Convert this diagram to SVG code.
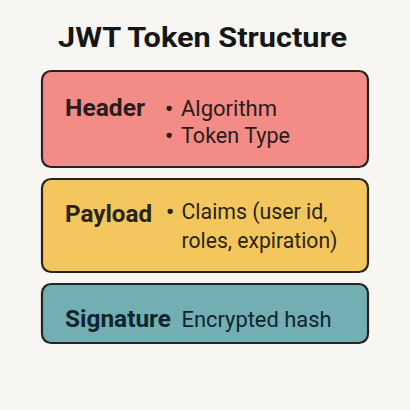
<svg xmlns="http://www.w3.org/2000/svg" width="410" height="410" viewBox="0 0 410 410">
<style>
.box{stroke:#2a2222;stroke-width:2.2}
.lbl{font-family:Roboto,"Liberation Sans",sans-serif;font-weight:bold;font-size:23px}
.txt{font-family:Roboto,"Liberation Sans",sans-serif;font-size:22.5px}
.bul{font-weight:bold}
.title{font-family:Roboto,"Liberation Sans",sans-serif;font-weight:bold;font-size:28.5px;fill:#161616}
</style>
<rect x="0" y="0" width="410" height="410" fill="#F8F6F2"/>
<text class="title" x="58" y="47" textLength="289" lengthAdjust="spacingAndGlyphs">JWT Token Structure</text>
<g id="header">
<rect class="box" x="42" y="71" width="326" height="96" rx="9" fill="#F38B86"/>
<text class="lbl" x="65" y="116" fill="#2a1c1c" textLength="80" lengthAdjust="spacingAndGlyphs">Header</text>
<text class="txt" y="116" fill="#2a1c1c"><tspan class="bul" x="165">•</tspan> <tspan x="181" textLength="96" lengthAdjust="spacingAndGlyphs">Algorithm</tspan></text>
<text class="txt" y="143" fill="#2a1c1c"><tspan class="bul" x="165">•</tspan> <tspan x="181" textLength="109" lengthAdjust="spacingAndGlyphs">Token Type</tspan></text>
</g>
<g id="payload">
<rect class="box" x="42" y="179" width="326" height="93" rx="9" fill="#F3C75E"/>
<text class="lbl" x="65" y="222" fill="#2a2414" textLength="87" lengthAdjust="spacingAndGlyphs">Payload</text>
<text class="txt" y="219" fill="#2a2414"><tspan class="bul" x="166">•</tspan> <tspan x="181.5" textLength="146" lengthAdjust="spacingAndGlyphs">Claims (user id,</tspan></text>
<text class="txt" x="181.5" y="248" fill="#2a2414" textLength="156" lengthAdjust="spacingAndGlyphs">roles, expiration)</text>
</g>
<g id="signature">
<rect class="box" x="42" y="284" width="326" height="59" rx="9" fill="#73AEB2"/>
<text class="lbl" x="65" y="327" fill="#10262e" textLength="106" lengthAdjust="spacingAndGlyphs">Signature</text>
<text class="txt" x="181.5" y="327" fill="#10262e" textLength="150" lengthAdjust="spacingAndGlyphs">Encrypted hash</text>
</g>
<g id="connectors"/>
</svg>
